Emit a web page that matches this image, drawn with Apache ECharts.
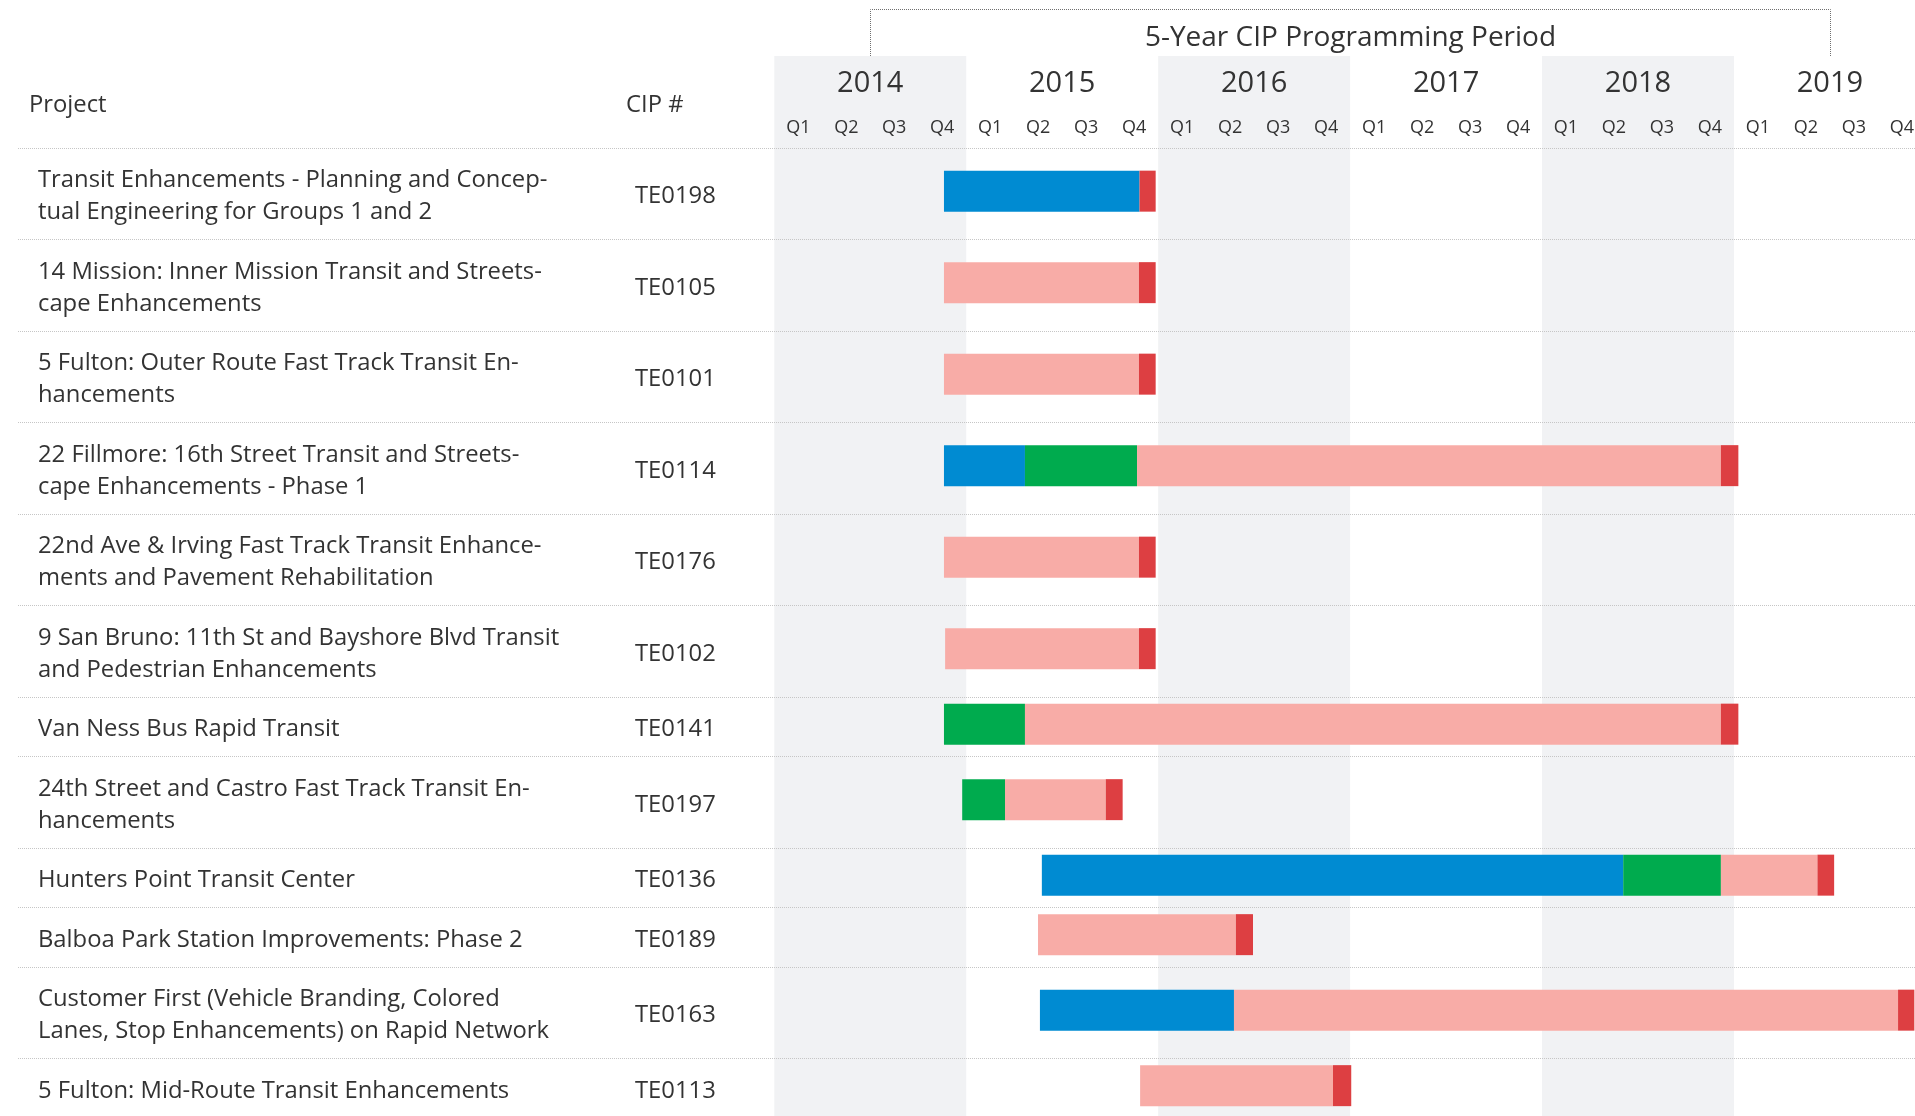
<!DOCTYPE html>
<html>
<head>
<meta charset="utf-8">
<title>5-Year CIP Programming Period</title>
<style>
  html, body { margin: 0; padding: 0; background: #ffffff; }
  #chart { width: 1915px; height: 1116px; }
</style>
<script src="https://cdn.jsdelivr.net/npm/echarts@6/dist/echarts.min.js"></script>
</head>
<body>
<div id="chart"></div>
<script>
// ---- Schedule data -------------------------------------------------------
const projects = [
  'Transit Enhancements - Planning and Concep-\ntual Engineering for Groups 1 and 2',
  '14 Mission: Inner Mission Transit and Streets-\ncape Enhancements',
  '5 Fulton: Outer Route Fast Track Transit En-\nhancements',
  '22 Fillmore: 16th Street Transit and Streets-\ncape Enhancements - Phase 1',
  '22nd Ave & Irving Fast Track Transit Enhance-\nments and Pavement Rehabilitation',
  '9 San Bruno: 11th St and Bayshore Blvd Transit\nand Pedestrian Enhancements',
  'Van Ness Bus Rapid Transit',
  '24th Street and Castro Fast Track Transit En-\nhancements',
  'Hunters Point Transit Center',
  'Balboa Park Station Improvements: Phase 2',
  'Customer First (Vehicle Branding, Colored\nLanes, Stop Enhancements) on Rapid Network',
  '5 Fulton: Mid-Route Transit Enhancements'
];
const cipNumbers = ['TE0198', 'TE0105', 'TE0101', 'TE0114', 'TE0176', 'TE0102',
                    'TE0141', 'TE0197', 'TE0136', 'TE0189', 'TE0163', 'TE0113'];

const years = ['2014', '2015', '2016', '2017', '2018', '2019'];
const quarters = ['Q1', 'Q2', 'Q3', 'Q4'];
const cipPeriod = [2014.5, 2019.5];

// Phase spans per project, in fractional years (null = phase not scheduled)
const planning = [
  [2014.884, 2015.903], null, null, [2014.884, 2015.306], null, null,
  null, null, [2015.394, 2018.423], null, [2015.384, 2016.395], null
];
const design = [
  null, null, null, [2015.306, 2015.890], null, null,
  [2014.884, 2015.306], [2014.979, 2015.202], [2018.423, 2018.932], null, null, null
];
const construction = [
  null, [2014.884, 2015.900], [2014.884, 2015.900], [2015.890, 2018.932],
  [2014.884, 2015.900], [2014.890, 2015.900], [2015.306, 2018.932],
  [2015.202, 2015.727], [2018.932, 2019.435], [2015.374, 2016.405],
  [2016.395, 2019.855], [2015.906, 2016.911]
];
const closeout = [
  [2015.903, 2015.987], [2015.900, 2015.987], [2015.900, 2015.987], [2018.932, 2019.023],
  [2015.900, 2015.987], [2015.900, 2015.987], [2018.932, 2019.023], [2015.727, 2015.815],
  [2019.435, 2019.522], [2016.405, 2016.494], [2019.855, 2019.940], [2016.911, 2017.006]
];

// ---- Layout --------------------------------------------------------------
const FONT = '"Open Sans"';
const TEXT = '#333333';
const LINE_H = 32;            // height of one text line in the table
const ROW_PAD = 27.5;         // vertical padding of a table row
const HEADER_H = 91.5;        // header band between grid top and first row
const BAR_H = 41;
const BAR_SHIFT = -2.1;
const TEXT_SHIFT = 3;
const TABLE_FONT = 23.8;

const rowHeights = projects.map(p => ROW_PAD + LINE_H * p.split('\n').length);
const rowTops = [];
let acc = HEADER_H;
rowHeights.forEach(h => { rowTops.push(acc); acc += h; });
const plotHeight = acc;

const quarterLabels = [];
years.forEach(() => quarters.forEach(q => quarterLabels.push(q)));

const crisp = v => Math.round(v) + 0.5;

function toSpans(list) {
  return list.map((s, i) => s && [s[0], s[1], i]).filter(Boolean);
}

function renderPhase(params, api) {
  const row = api.value(2);
  const cy = api.coord([2014, rowTops[row] + rowHeights[row] / 2])[1] + BAR_SHIFT;
  const x0 = api.coord([api.value(0), 0])[0];
  const x1 = api.coord([api.value(1), 0])[0];
  return {
    type: 'rect',
    shape: { x: x0, y: cy - BAR_H / 2, width: x1 - x0, height: BAR_H },
    style: { fill: api.visual('color') }
  };
}

function renderTable(params, api) {
  const i = api.value(1);
  const top = api.coord([2014, rowTops[i]])[1];
  const bottom = api.coord([2014, rowTops[i] + rowHeights[i]])[1];
  const cy = (top + bottom) / 2 + TEXT_SHIFT;
  const textStyle = {
    fontFamily: FONT, fontSize: TABLE_FONT, lineHeight: LINE_H, fill: TEXT,
    align: 'left', verticalAlign: 'middle'
  };
  const sep = {
    stroke: '#c6c6c6', lineWidth: 1, lineDash: [1, 1]
  };
  const children = [
    { type: 'text', style: Object.assign({ text: projects[i], x: 38, y: cy }, textStyle) },
    { type: 'text', style: Object.assign({ text: cipNumbers[i], x: 635, y: cy }, textStyle) },
    { type: 'line', shape: { x1: 18, y1: crisp(bottom), x2: 1915, y2: crisp(bottom) }, style: sep }
  ];
  if (i === 0) {
    const gridTop = api.coord([2014, 0])[1];
    children.push(
      { type: 'line', shape: { x1: 18, y1: crisp(top), x2: 1915, y2: crisp(top) }, style: sep },
      { type: 'text', style: Object.assign({ text: 'Project', x: 29, y: gridTop + 46.5 + TEXT_SHIFT }, textStyle) },
      { type: 'text', style: Object.assign({ text: 'CIP #', x: 626, y: gridTop + 46.5 + TEXT_SHIFT }, textStyle) }
    );
  }
  return { type: 'group', children };
}

function renderPeriod(params, api) {
  const gridTop = api.coord([2014, 0])[1];
  const x0 = crisp(api.coord([api.value(0), 0])[0]);
  const x1 = crisp(api.coord([api.value(1), 0])[0]);
  const yTop = crisp(gridTop - 47);
  return {
    type: 'group',
    children: [
      {
        type: 'polyline',
        shape: { points: [[x0, gridTop], [x0, yTop], [x1, yTop], [x1, gridTop]] },
        style: { stroke: '#6f6f6f', lineWidth: 1, lineDash: [1, 1], fill: null }
      },
      {
        type: 'text',
        style: {
          text: '5-Year CIP Programming Period', x: (x0 + x1) / 2, y: gridTop - 18,
          align: 'center', verticalAlign: 'middle',
          fontFamily: FONT, fontSize: 28, fill: TEXT
        }
      }
    ]
  };
}

const phaseSeries = [
  { name: 'Planning', list: planning, color: '#008bd2' },
  { name: 'Design', list: design, color: '#00ab4e' },
  { name: 'Construction', list: construction, color: '#f8aca7' },
  { name: 'Closeout', list: closeout, color: '#dd3f42' }
].map(p => ({
  type: 'custom',
  name: p.name,
  renderItem: renderPhase,
  itemStyle: { color: p.color },
  encode: { x: [0, 1] },
  clip: false,
  z: 3,
  data: toSpans(p.list)
}));

const chart = echarts.init(document.getElementById('chart'));
chart.setOption({
  animation: false,
  backgroundColor: '#ffffff',
  grid: {
    left: 774.3, top: 56, width: 191.93 * years.length, height: plotHeight,
    outerBoundsMode: 'none', containLabel: false
  },
  xAxis: [
    { type: 'value', min: 2014, max: 2014 + years.length, show: false },
    {
      type: 'category', data: years, position: 'top',
      axisLine: { show: false, onZero: false }, axisTick: { show: false },
      axisLabel: { inside: true, margin: 13, fontSize: 29, fontFamily: FONT, color: TEXT },
      splitLine: { show: false },
      splitArea: { show: true, areaStyle: { color: ['#f1f2f4', 'rgba(255,255,255,0)'] } }
    },
    {
      type: 'category', data: quarterLabels, position: 'top',
      axisLine: { show: false, onZero: false }, axisTick: { show: false },
      axisLabel: { inside: true, margin: 62.5, interval: 0, fontSize: 18, fontFamily: FONT, color: TEXT },
      splitLine: { show: false }
    }
  ],
  yAxis: { type: 'value', min: 0, max: plotHeight, inverse: true, show: false },
  series: [
    {
      type: 'custom',
      name: 'table',
      renderItem: renderTable,
      encode: { x: 0, y: 1 },
      clip: false,
      silent: true,
      z: 2,
      data: projects.map((p, i) => [2014, i])
    },
    {
      type: 'custom',
      name: 'period',
      renderItem: renderPeriod,
      encode: { x: [0, 1] },
      clip: false,
      silent: true,
      z: 2,
      data: [[cipPeriod[0], cipPeriod[1]]]
    }
  ].concat(phaseSeries)
});
</script>
</body>
</html>
